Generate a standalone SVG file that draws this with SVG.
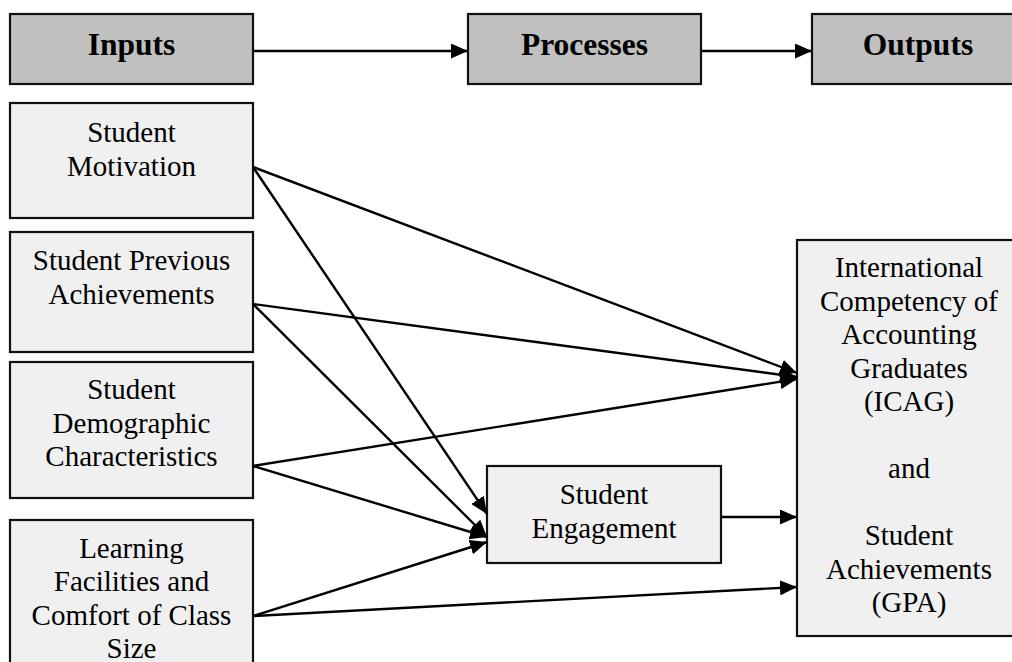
<svg xmlns="http://www.w3.org/2000/svg" width="1012" height="662" viewBox="0 0 1012 662">
<style>
.hdr rect{fill:#c0c0c0;stroke:#111;stroke-width:2.2}
.box rect{fill:#f0f0f0;stroke:#111;stroke-width:2.2}
.hdr text{font-family:"Liberation Serif","Times New Roman",serif;font-weight:bold;font-size:31.5px;text-anchor:middle;fill:#000}
.box text{font-family:"Liberation Serif","Times New Roman",serif;font-size:29px;text-anchor:middle;fill:#000}
#connectors line{stroke:#000;stroke-width:2.4;marker-end:url(#ah)}
</style>
<defs>
<marker id="ah" markerWidth="17" markerHeight="15" refX="17" refY="7.5" orient="auto" markerUnits="userSpaceOnUse">
<path d="M0,0 L17,7.5 L0,15 z" fill="#000"/>
</marker>
</defs>
<rect width="1012" height="662" fill="#fff"/>
<g id="inputs" class="hdr"><rect x="10" y="14" width="243" height="70"/><text x="131.5" y="55">Inputs</text></g>
<g id="processes" class="hdr"><rect x="468" y="14" width="233" height="70"/><text x="584.5" y="55">Processes</text></g>
<g id="outputs" class="hdr"><rect x="812" y="14" width="212" height="70"/><text x="918" y="55">Outputs</text></g>
<g id="motivation" class="box"><rect x="10" y="103" width="243" height="115"/><text x="131.5" y="141.5">Student</text><text x="131.5" y="175.5">Motivation</text></g>
<g id="previous" class="box"><rect x="10" y="232" width="243" height="120"/><text x="131.5" y="269.5">Student Previous</text><text x="131.5" y="303.5">Achievements</text></g>
<g id="demographic" class="box"><rect x="10" y="362" width="243" height="136"/><text x="131.5" y="399">Student</text><text x="131.5" y="432.5">Demographic</text><text x="131.5" y="466">Characteristics</text></g>
<g id="learning" class="box"><rect x="10" y="520" width="243" height="170"/><text x="131.5" y="557.5">Learning</text><text x="131.5" y="591">Facilities and</text><text x="131.5" y="624.5">Comfort of Class</text><text x="131.5" y="658">Size</text></g>
<g id="engagement" class="box"><rect x="487" y="466" width="234" height="97"/><text x="604" y="504">Student</text><text x="604" y="537.5">Engagement</text></g>
<g id="result" class="box"><rect x="797" y="240" width="226" height="396"/>
<text x="909" y="277">International</text><text x="909" y="310.5">Competency of</text><text x="909" y="344">Accounting</text><text x="909" y="377.5">Graduates</text><text x="909" y="411">(ICAG)</text><text x="909" y="478">and</text><text x="909" y="545">Student</text><text x="909" y="578.5">Achievements</text><text x="909" y="612">(GPA)</text></g>
<g id="connectors">
<line x1="253" y1="51" x2="468" y2="51"/>
<line x1="701" y1="51" x2="812" y2="51"/>
<line x1="253" y1="167" x2="797" y2="373"/>
<line x1="253" y1="167" x2="487" y2="514"/>
<line x1="253" y1="304" x2="797" y2="377"/>
<line x1="253" y1="304" x2="487" y2="537"/>
<line x1="253" y1="466" x2="797" y2="379"/>
<line x1="253" y1="466" x2="487" y2="537"/>
<line x1="253" y1="616" x2="487" y2="542"/>
<line x1="253" y1="616" x2="797" y2="587"/>
<line x1="721" y1="517" x2="797" y2="517"/>
</g>
</svg>
